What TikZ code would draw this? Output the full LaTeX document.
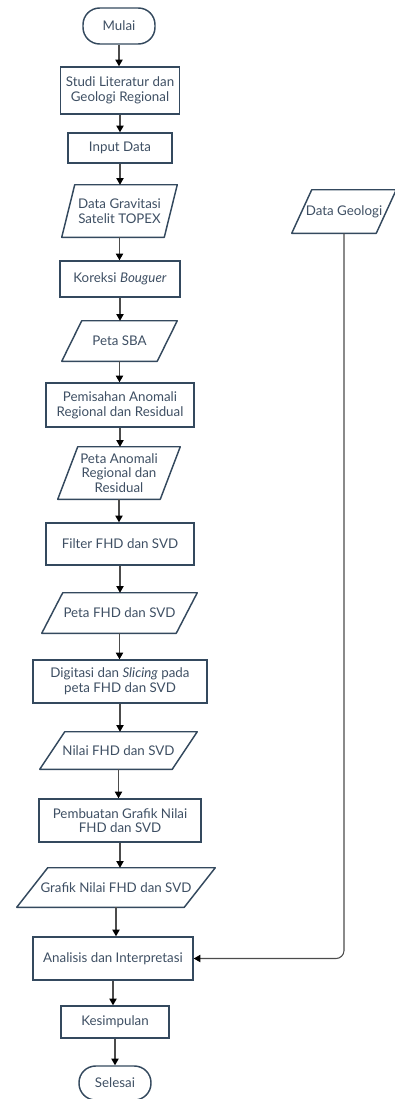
\documentclass[tikz,border=0pt]{standalone}
\usepackage{fontspec}
\setmainfont{Lato}
\usetikzlibrary{arrows.meta}
\definecolor{boxline}{HTML}{34495E}
\definecolor{boxtext}{HTML}{3E4F63}

\begin{document}
\begin{tikzpicture}[x=0.75pt,y=-0.75pt,font=\fontsize{10}{11}\selectfont,
                    every node/.style={text=boxtext,align=center},
                    process/.style={rectangle,draw=boxline,line width=1.1pt,inner sep=2pt},
                    term/.style={rectangle,draw=boxline,line width=1.1pt,rounded corners=12.5pt,
                                 minimum width=54pt},
                    io/.style={rectangle,inner sep=0pt,
                               append after command={\pgfextra{
                                 \draw[boxline,line width=1.1pt,line join=round]
                                   ([xshift=#1]\tikzlastnode.north west) -- (\tikzlastnode.north east)
                                   -- ([xshift=-#1]\tikzlastnode.south east) -- (\tikzlastnode.south west)
                                   -- cycle;}}},
                    flow/.style={draw=black!70,line width=0.8pt,
                                 -{Triangle[length=5pt,width=5.5pt,color=black]}}]
  \useasboundingbox (0,0) rectangle (395,1099);
  \node[term,minimum height=27pt] (mulai) at (119,26) {Mulai};
  \node[process,minimum width=89.25pt,minimum height=35.25pt] (studi) at (120,90.5) {Studi Literatur dan\\Geologi Regional};
  \node[process,minimum width=78pt,minimum height=22.5pt] (input) at (120,148) {Input Data};
  \node[io=9.75pt,minimum width=86.25pt,minimum height=39pt] (gravitasi) at (119.5,211) {Data Gravitasi\\Satelit TOPEX};
  \node[process,minimum width=90pt,minimum height=27pt] (koreksi) at (120,279) {Koreksi \textit{Bouguer}};
  \node[io=15pt,minimum width=86.25pt,minimum height=30pt] (sba) at (119.5,341) {Peta SBA};
  \node[process,minimum width=111pt,minimum height=33pt] (pemisahan) at (120,405) {Pemisahan Anomali\\Regional dan Residual};
  \node[io=15pt,minimum width=91.5pt,minimum height=39pt] (anomali) at (119,473) {Peta Anomali\\Regional dan\\Residual};
  \node[process,minimum width=111pt,minimum height=31.5pt] (filter) at (120,544) {Filter FHD dan SVD};
  \node[io=15.75pt,minimum width=116.25pt,minimum height=30pt] (petafhd) at (119.5,613) {Peta FHD dan SVD};
  \node[process,minimum width=130.5pt,minimum height=32.25pt] (digitasi) at (120,681.5) {Digitasi dan \textit{Slicing} pada\\peta FHD dan SVD};
  \node[io=18.75pt,minimum width=117.75pt,minimum height=27.75pt] (nilai) at (118.5,750.5) {Nilai FHD dan SVD};
  \node[process,minimum width=121.5pt,minimum height=32.25pt] (pembuatan) at (120,820.5) {Pembuatan Grafik Nilai\\FHD dan SVD};
  \node[io=23.25pt,minimum width=148.5pt,minimum height=29.25pt] (grafik) at (116,887.5) {Grafik Nilai FHD dan SVD};
  \node[process,minimum width=120pt,minimum height=32.25pt] (analisis) at (113,958.5) {Analisis dan Interpretasi};
  \node[process,minimum width=81pt,minimum height=24pt] (kesimpulan) at (115,1022) {Kesimpulan};
  \node[term,minimum height=25.5pt] (selesai) at (115,1083) {Selesai};
  \node[io=15pt,minimum width=78pt,minimum height=32.25pt] (geologi) at (344,211.5) {Data Geologi};

  \foreach \a/\b in {mulai/studi,studi/input,input/gravitasi,gravitasi/koreksi,koreksi/sba,
                     sba/pemisahan,pemisahan/anomali,anomali/filter,filter/petafhd,
                     petafhd/digitasi,digitasi/nilai,nilai/pembuatan,pembuatan/grafik,
                     grafik/analisis,analisis/kesimpulan,kesimpulan/selesai}
    \draw[flow] (\a.south) -- (\a.south |- \b.north);
  \draw[flow,rounded corners=6pt] (geologi.south) |- (analisis.east);
\end{tikzpicture}
\end{document}
